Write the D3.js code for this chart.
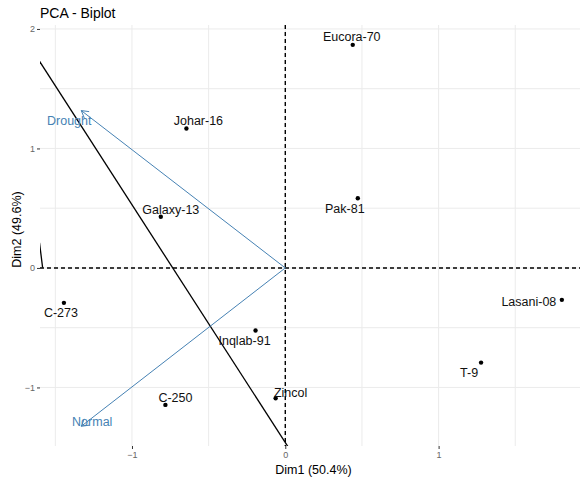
<!DOCTYPE html>
<html>
<head>
<meta charset="utf-8">
<script src="https://cdn.jsdelivr.net/npm/d3@7"></script>
<style>
  body { margin: 0; background: #fff; }
  svg { font-family: "Liberation Sans", Arial, sans-serif; }
</style>
</head>
<body>
<svg id="chart"></svg>
<script>
let w = 580;
let h = 479;

// individuals (genotypes)
const genotypes = ['Eucora-70', 'Pak-81', 'Lasani-08', 'T-9', 'Johar-16', 'Galaxy-13', 'C-273', 'Inqlab-91', 'C-250', 'Zincol'];
const dim1 = [0.44, 0.473, 1.804, 1.277, -0.645, -0.812, -1.444, -0.194, -0.782, -0.063];
const dim2 = [1.867, 0.583, -0.267, -0.792, 1.167, 0.428, -0.292, -0.524, -1.146, -1.09];
// label nudges (px) so the text sits like the repelled labels
const labelNudge = [[-1, -8], [-13, 10], [-33, 2], [-12, 10], [12, -8], [10, -7], [-3, 10], [-11, 10], [10, -7], [15, -6]];

// variables
const variables = ['Drought', 'Normal'];
const varDim1 = [-1.331, -1.331];
const varDim2 = [1.317, -1.325];
const varNudge = [[-12, 10], [11, -5]];

// black reference line (intercept, slope) and small curve piece
const refIntercept = -1.461;
const refSlope = -1.99;
const curvePiece = [[-1.603, 0.211], [-1.583, 0.003]];

const xTicks = [-1, 0, 1];
const yTicks = [-1, 0, 1, 2];
const xGrid = [-1.5, -1, -0.5, 0, 0.5, 1, 1.5];
const yGrid = [-1, -0.5, 0, 0.5, 1, 1.5, 2];

const pLeft = 40, pRight = 587, pTop = 25, pBottom = 446;

function createGraph() {
    const chart = d3.select('#chart')
        .attr('width', w)
        .attr('height', h);

    const x = d3.scaleLinear().domain([-1.6, 1.968]).range([pLeft, pRight]);
    const y = d3.scaleLinear().domain([-1.49, 2.033]).range([pBottom, pTop]);

    chart.append('defs').append('clipPath').attr('id', 'panel')
        .append('rect')
        .attr('x', pLeft).attr('y', pTop)
        .attr('width', pRight - pLeft).attr('height', pBottom - pTop);

    // grid
    chart.append('g').selectAll('line')
        .data(xGrid).enter().append('line')
        .attr('x1', d => x(d)).attr('x2', d => x(d))
        .attr('y1', pTop).attr('y2', pBottom)
        .style('stroke', '#ebebeb').style('stroke-width', 1);
    chart.append('g').selectAll('line')
        .data(yGrid).enter().append('line')
        .attr('y1', d => y(d)).attr('y2', d => y(d))
        .attr('x1', pLeft).attr('x2', pRight)
        .style('stroke', '#ebebeb').style('stroke-width', 1);

    // axes
    const xAxis = chart.append('g')
        .attr('transform', `translate(0,${pBottom})`)
        .call(d3.axisBottom(x).tickValues(xTicks).tickSize(3).tickPadding(3).tickFormat(d3.format('d')));
    const yAxis = chart.append('g')
        .attr('transform', `translate(${pLeft},0)`)
        .call(d3.axisLeft(y).tickValues(yTicks).tickSize(3).tickPadding(2).tickFormat(d3.format('d')));
    [xAxis, yAxis].forEach(a => {
        a.select('.domain').remove();
        a.selectAll('line').style('stroke', '#333');
        a.selectAll('text').style('fill', '#666').style('font-size', '9px')
            .style('font-family', '"Liberation Sans", Arial, sans-serif');
    });

    const panel = chart.append('g').attr('clip-path', 'url(#panel)');

    // dashed zero lines
    panel.append('line')
        .attr('x1', pLeft).attr('x2', pRight).attr('y1', y(0)).attr('y2', y(0))
        .style('stroke', '#000').style('stroke-width', 1.4).style('stroke-dasharray', '4,3');
    panel.append('line')
        .attr('x1', x(0)).attr('x2', x(0)).attr('y1', pTop).attr('y2', pBottom)
        .style('stroke', '#000').style('stroke-width', 1.4).style('stroke-dasharray', '4,3');

    // black line
    const xs = [-2, 1];
    panel.append('line')
        .attr('x1', x(xs[0])).attr('y1', y(refIntercept + refSlope * xs[0]))
        .attr('x2', x(xs[1])).attr('y2', y(refIntercept + refSlope * xs[1]))
        .style('stroke', '#000').style('stroke-width', 1.3);
    panel.append('path')
        .attr('d', d3.line().x(d => x(d[0])).y(d => y(d[1]))(curvePiece))
        .style('fill', 'none').style('stroke', '#000').style('stroke-width', 1.3);

    // variable arrows
    const vars = variables.map((v, i) => ({ name: v, x: varDim1[i], y: varDim2[i], n: varNudge[i] }));
    const ah = 8, ang = Math.PI / 6;
    vars.forEach(v => {
        const x1 = x(v.x), y1 = y(v.y), x0 = x(0), y0 = y(0);
        const t = Math.atan2(y1 - y0, x1 - x0);
        panel.append('line')
            .attr('x1', x0).attr('y1', y0).attr('x2', x1).attr('y2', y1)
            .style('stroke', '#4682b4').style('stroke-width', 1);
        panel.append('path')
            .attr('d', `M${x1 - ah * Math.cos(t - ang)},${y1 - ah * Math.sin(t - ang)}L${x1},${y1}L${x1 - ah * Math.cos(t + ang)},${y1 - ah * Math.sin(t + ang)}`)
            .style('fill', 'none').style('stroke', '#4682b4').style('stroke-width', 1);
        chart.append('text')
            .attr('x', x1 + v.n[0]).attr('y', y1 + v.n[1])
            .attr('dy', '0.35em')
            .style('text-anchor', 'middle')
            .style('font-size', '12.5px')
            .style('fill', '#4682b4')
            .text(v.name);
    });

    // points
    const pts = genotypes.map((g, i) => ({ name: g, x: dim1[i], y: dim2[i], n: labelNudge[i] }));
    chart.append('g').selectAll('circle')
        .data(pts).enter().append('circle')
        .attr('cx', d => x(d.x)).attr('cy', d => y(d.y)).attr('r', 2.2)
        .style('fill', '#000');
    chart.append('g').selectAll('text')
        .data(pts).enter().append('text')
        .attr('x', d => x(d.x) + d.n[0]).attr('y', d => y(d.y) + d.n[1])
        .attr('dy', '0.35em')
        .style('text-anchor', 'middle')
        .style('font-size', '12.5px')
        .style('fill', '#111')
        .text(d => d.name);

    // titles
    chart.append('text')
        .attr('x', pLeft).attr('y', 18)
        .style('font-size', '14px').style('fill', '#000')
        .text('PCA - Biplot');
    chart.append('text')
        .attr('x', (pLeft + pRight) / 2).attr('y', 474)
        .style('text-anchor', 'middle').style('font-size', '12.5px').style('fill', '#000')
        .text('Dim1 (50.4%)');
    chart.append('text')
        .attr('transform', `translate(21,${(pTop + pBottom) / 2 - 6}) rotate(-90)`)
        .style('text-anchor', 'middle').style('font-size', '12.5px').style('fill', '#000')
        .text('Dim2 (49.6%)');
}

createGraph();
</script>
</body>
</html>
